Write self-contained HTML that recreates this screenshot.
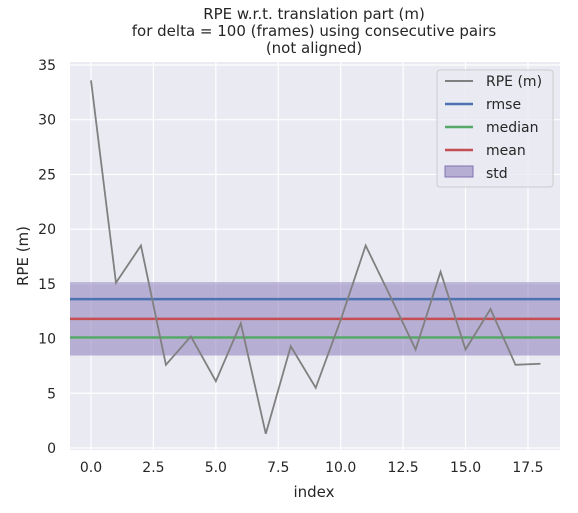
<!DOCTYPE html>
<html><head><meta charset="utf-8"><style>
body{margin:0;background:#fff;font-family:"Liberation Sans","DejaVu Sans",sans-serif}
text{font-family:"DejaVu Sans","Liberation Sans",sans-serif;fill:#262626}
</style></head><body>
<svg id="c" width="578" height="508">
<text x="314" y="19" text-anchor="middle" font-size="15">RPE w.r.t. translation part (m)</text>
<text x="314" y="36" text-anchor="middle" font-size="15">for delta = 100 (frames) using consecutive pairs</text>
<text x="314" y="53" text-anchor="middle" font-size="15">(not aligned)</text>
<rect x="70" y="62" width="490" height="388" fill="#eaeaf2"/>
<g id="grid"></g><g id="marks"></g><g id="ticks"></g>
<text x="314" y="497" text-anchor="middle" font-size="15">index</text>
<text transform="translate(28,256) rotate(-90)" text-anchor="middle" font-size="15">RPE (m)</text>
<g>
<rect x="437" y="70" width="116" height="117" rx="3" fill="#eaeaf2" fill-opacity="0.8" stroke="#ccc"/>
<line x1="445" y1="81" x2="473" y2="81" stroke="#808080" stroke-width="2"/><text x="486" y="86" font-size="14">RPE (m)</text>
<line x1="445" y1="104" x2="473" y2="104" stroke="#4c72b0" stroke-width="2.5"/><text x="486" y="109" font-size="14">rmse</text>
<line x1="445" y1="127" x2="473" y2="127" stroke="#55a868" stroke-width="2.5"/><text x="486" y="132" font-size="14">median</text>
<line x1="445" y1="150" x2="473" y2="150" stroke="#c44e52" stroke-width="2.5"/><text x="486" y="155" font-size="14">mean</text>
<rect x="445" y="166" width="28" height="11" fill="#8172b3" fill-opacity="0.5" stroke="#8172b3"/><text x="486" y="178" font-size="14">std</text>
</g>
</svg>
<script>
const rpe=[33.6,15.1,18.5,7.6,10.2,6.1,11.4,1.3,9.3,5.5,11.7,18.5,13.8,9.0,16.1,9.0,12.7,7.6,7.7];
const rmse=13.6, median=10.1, mean=11.8, std=3.35;
const xTicks=[0,2.5,5,7.5,10,12.5,15,17.5];
const yTicks=[0,5,10,15,20,25,30,35];
const X=v=>91+v*24.97, Y=v=>448-v*10.943;
const ns="http://www.w3.org/2000/svg";
function mk(p,t,a){const e=document.createElementNS(ns,t);for(const k in a)e.setAttribute(k,a[k]);document.getElementById(p).appendChild(e);return e;}
xTicks.forEach(v=>{
 const l=mk('grid','line',{x1:X(v),x2:X(v),y1:62,y2:450,stroke:'#fff','stroke-width':1.2});
 
 
 const t=mk('ticks','text',{x:X(v),y:472,'text-anchor':'middle','font-size':14});t.textContent=v.toFixed(1);
 
 
});
yTicks.forEach(v=>{
 const l=mk('grid','line',{x1:70,x2:560,y1:Y(v),y2:Y(v),stroke:'#fff','stroke-width':1.2});
 
 
 const t=mk('ticks','text',{x:56,y:Y(v)+5,'text-anchor':'end','font-size':14});t.textContent=v;
 
 
});
const band=mk('marks','rect',{x:70,width:490,y:Y(mean+std),height:Y(mean-std)-Y(mean+std),fill:'#8172b3','fill-opacity':0.5});


[[rmse,'#4c72b0','rmse-line'],[median,'#55a868','median-line'],[mean,'#c44e52','mean-line']].forEach(([v,c,n])=>{
 const l=mk('marks','line',{x1:70,x2:560,y1:Y(v),y2:Y(v),stroke:c,'stroke-width':2.5});
 
 
});
const pl=mk('marks','polyline',{points:rpe.map((v,i)=>X(i)+','+Y(v)).join(' '),fill:'none',stroke:'#808080','stroke-width':1.8});


</script>
</body></html>
